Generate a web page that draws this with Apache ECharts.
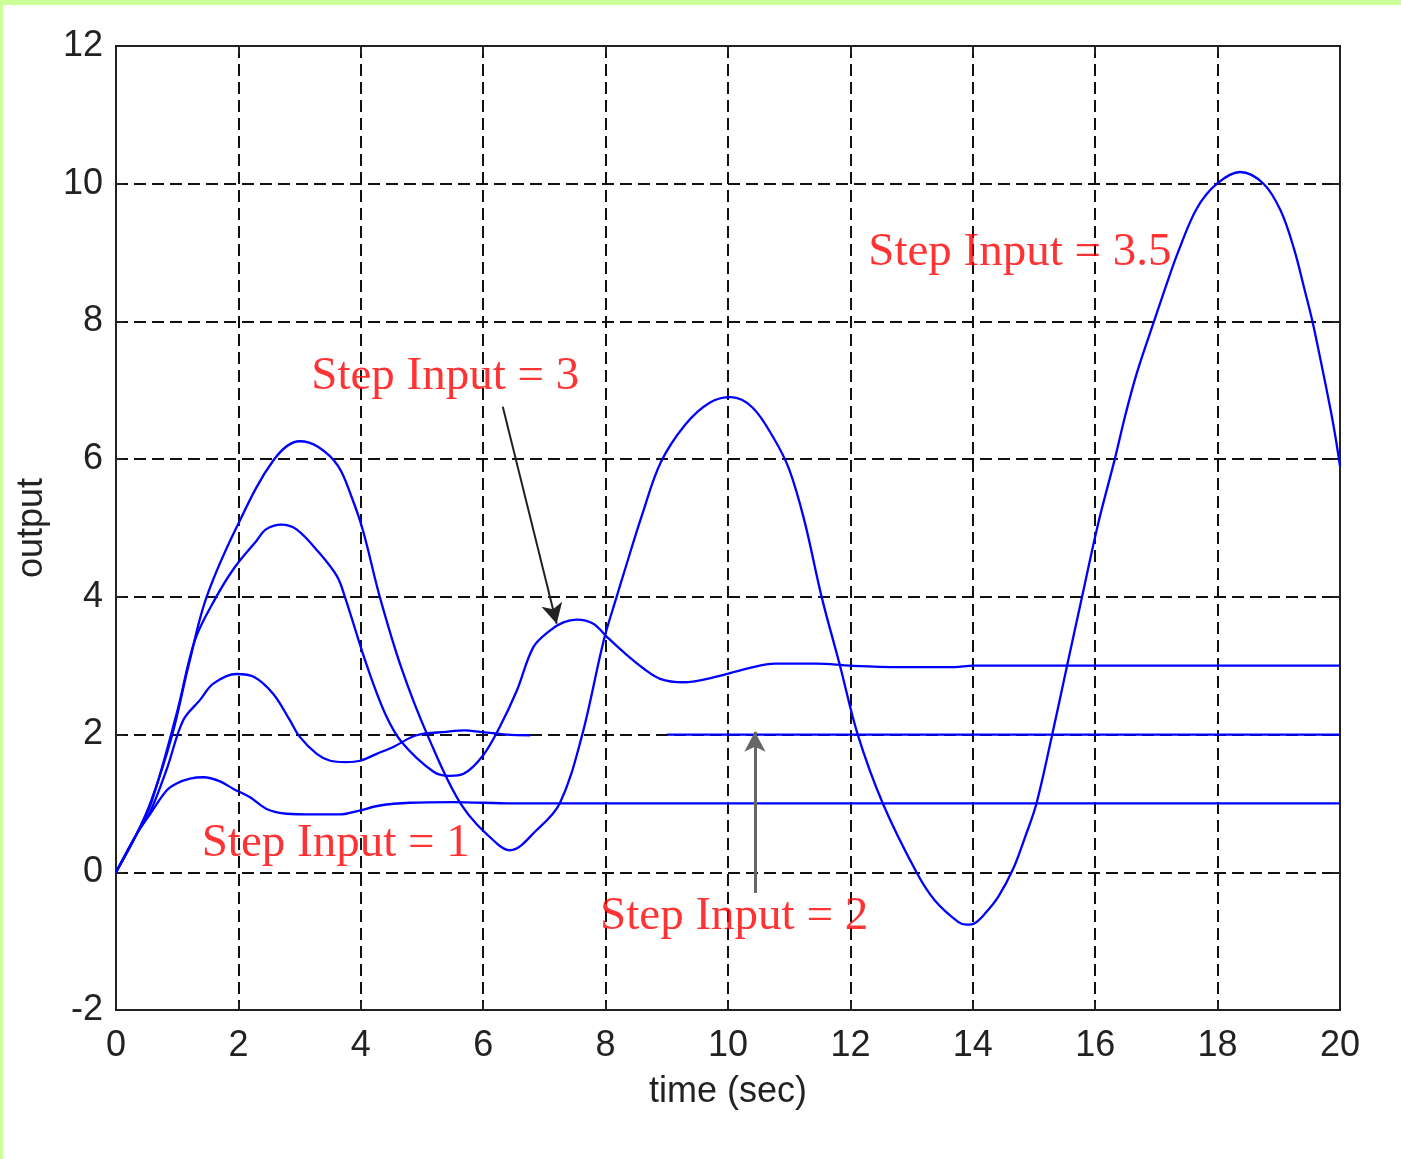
<!DOCTYPE html>
<html lang="en">
<head>
    <meta charset="utf-8">
    <title>step response</title>
    <script src="https://cdn.jsdelivr.net/npm/echarts@6/dist/echarts.min.js"></script>
    <style>
        body { margin: 0; background: #fff; }
        #container { position: absolute; left: 0; top: 0; width: 1401px; height: 1159px; }
        .edge { position: absolute; background: #ccff99; z-index: 5; }
    </style>
</head>
<body>
<div id="container"></div>
<div class="edge" style="left:0;top:0;width:1401px;height:5px;"></div>
<div class="edge" style="left:0;top:0;width:3px;height:1159px;"></div>
<script>
    // step input = 1
    var t1 = [0, 0.34, 0.56, 0.83, 0.99, 1.21, 1.43, 1.7, 1.92, 2.19, 2.46, 2.79, 3.2, 3.66, 3.99, 4.31, 4.8, 5.5, 6.5, 20];
    var y1 = [0, 0.56, 0.85, 1.19, 1.29, 1.36, 1.38, 1.32, 1.21, 1.09, 0.92, 0.85, 0.84, 0.84, 0.9, 0.97, 1.01, 1.02, 1.0, 1.0];
    // step input = 2 (the curve has a gap in the original between ~6.8 s and 9 s)
    var t2 = [0, 0.34, 0.56, 0.83, 1.1, 1.37, 1.59, 1.97, 2.25, 2.57, 2.84, 3.0, 3.28, 3.5, 3.75, 3.99, 4.26, 4.53, 4.91, 5.4, 5.7, 5.95, 6.38, 6.77, 7.5, 9.0, 20];
    var y2 = [0, 0.56, 0.88, 1.5, 2.21, 2.5, 2.74, 2.88, 2.84, 2.59, 2.21, 1.97, 1.72, 1.62, 1.6, 1.62, 1.72, 1.82, 1.99, 2.04, 2.06, 2.04, 2.0, 1.99, null, 2.0, 2.0];
    // step input = 3
    var t3 = [0, 0.34, 0.58, 0.99, 1.29, 1.62, 1.94, 2.3, 2.45, 2.7, 2.95, 3.31, 3.61, 3.74, 4.1, 4.4, 4.67, 5.19, 5.45, 5.68, 6.0, 6.27, 6.55, 6.82, 7.09, 7.31, 7.53, 7.8, 8.02, 8.29, 8.62, 8.89, 9.27, 9.81, 10.36, 10.77, 11.45, 12.0, 12.8, 13.7, 14.0, 20];
    var y3 = [0, 0.56, 1.02, 2.3, 3.37, 3.97, 4.43, 4.82, 4.98, 5.05, 4.98, 4.65, 4.3, 4.0, 3.0, 2.3, 1.89, 1.46, 1.4, 1.43, 1.7, 2.11, 2.64, 3.27, 3.51, 3.63, 3.67, 3.61, 3.42, 3.2, 2.96, 2.81, 2.76, 2.84, 2.97, 3.03, 3.03, 3.0, 2.98, 2.98, 3.0, 3.0];
    // step input = 3.5
    var t35 = [0, 0.34, 0.58, 0.91, 1.18, 1.47, 1.97, 2.57, 3.0, 3.3, 3.63, 3.85, 4.04, 4.31, 4.67, 5.1, 5.65, 6.22, 6.44, 6.87, 7.25, 7.61, 7.97, 8.18, 8.3, 8.6, 8.9, 9.3, 9.7, 10.05, 10.4, 10.75, 11.0, 11.25, 11.53, 11.83, 12.12, 12.53, 13.08, 13.38, 13.76, 13.9, 14.03, 14.2, 14.42, 14.66, 14.85, 15.04, 15.29, 15.54, 15.78, 16.05, 16.32, 16.49, 16.68, 16.98, 17.17, 17.36, 17.66, 17.99, 18.37, 18.75, 19.03, 19.25, 19.41, 19.55, 19.68, 19.85, 19.93, 20];
    var y35 = [0, 0.56, 1.05, 1.97, 2.98, 3.97, 5.01, 5.98, 6.26, 6.18, 5.9, 5.45, 4.95, 4.0, 2.95, 1.97, 0.97, 0.42, 0.32, 0.61, 1.0, 1.97, 3.37, 4.0, 4.35, 5.2, 5.95, 6.5, 6.82, 6.9, 6.75, 6.3, 5.85, 5.1, 4.0, 3.0, 2.0, 1.0, 0.0, -0.41, -0.72, -0.76, -0.74, -0.6, -0.35, 0.05, 0.5, 1.0, 1.97, 3.0, 3.98, 5.07, 6.0, 6.63, 7.25, 8.05, 8.55, 9.02, 9.64, 10.0, 10.17, 10.0, 9.61, 9.05, 8.5, 8.0, 7.45, 6.7, 6.3, 5.9];

    // annotations
    var noteText = ['Step Input = 3.5', 'Step Input = 3', 'Step Input = 1', 'Step Input = 2'];
    var noteT = [14.77, 5.38, 3.59, 10.1];
    var noteY = [9.0, 7.2, 0.41, -0.64];
    // arrows: [from t, from y, to t, to y]
    var arrow3 = [6.32, 6.76, 7.2, 3.61];
    var arrow2 = [10.44, -0.3, 10.44, 2.04];

    var xTicks = [0, 20, 2];
    var yTicks = [-2, 12, 2];

    function pairs(ts, ys) {
        var out = [];
        for (var i = 0; i < ts.length; i++) {
            out.push([ts[i], ys[i]]);
        }
        return out;
    }

    var dom = document.getElementById("container");
    var myChart = echarts.init(dom);

    var axisFont = {fontFamily: 'Liberation Sans', fontSize: 36, color: '#222'};
    var gridDash = {show: true, lineStyle: {color: '#111', width: 2, type: [12, 6]}};
    var blueLine = {color: '#0000ff', width: 2.3};
    var frame = {show: true, onZero: false, lineStyle: {color: '#222', width: 2}};
    var inTick = {show: true, inside: true, length: 8, lineStyle: {color: '#222', width: 2}};

    function curve(name, data) {
        return {
            name: name, type: 'line', data: data, showSymbol: false, symbol: 'none',
            smooth: 0.35, connectNulls: false, lineStyle: blueLine, itemStyle: {color: '#0000ff'},
            z: 3
        };
    }

    var notes = [];
    for (var i = 0; i < noteText.length; i++) {
        notes.push({value: [noteT[i], noteY[i]], name: noteText[i]});
    }

    var option = {
        backgroundColor: '#fff',
        animation: false,
        grid: {left: 116, right: 61, top: 46, bottom: 149, show: true, borderColor: '#222', borderWidth: 2},
        xAxis: [{
            type: 'value', min: xTicks[0], max: xTicks[1], interval: xTicks[2],
            axisLine: frame, axisTick: inTick,
            axisLabel: Object.assign({margin: 18}, axisFont),
            splitLine: gridDash,
            name: 'time (sec)', nameLocation: 'middle', nameGap: 64,
            nameTextStyle: axisFont
        }, {
            type: 'value', min: xTicks[0], max: xTicks[1], interval: xTicks[2], position: 'top',
            axisLine: frame, axisTick: inTick,
            axisLabel: {show: false}, splitLine: {show: false}
        }],
        yAxis: [{
            type: 'value', min: yTicks[0], max: yTicks[1], interval: yTicks[2],
            axisLine: frame, axisTick: inTick,
            axisLabel: Object.assign({margin: 13}, axisFont),
            splitLine: gridDash,
            name: 'output', nameLocation: 'middle', nameGap: 66, nameRotate: 90,
            nameTextStyle: axisFont
        }, {
            type: 'value', min: yTicks[0], max: yTicks[1], interval: yTicks[2], position: 'right',
            axisLine: frame, axisTick: inTick,
            axisLabel: {show: false}, splitLine: {show: false}
        }],
        series: [
            curve('Step Input = 1', pairs(t1, y1)),
            curve('Step Input = 2', pairs(t2, y2)),
            curve('Step Input = 3', pairs(t3, y3)),
            (function () {
                var s = curve('Step Input = 3.5', pairs(t35, y35));
                s.markLine = {
                    silent: true, animation: false,
                    symbol: ['none', 'arrow'], symbolSize: [16, 20],
                    label: {show: false},
                    data: [
                        [{coord: [arrow3[0], arrow3[1]], lineStyle: {color: '#222', width: 2, type: 'solid'}},
                         {coord: [arrow3[2], arrow3[3]]}],
                        [{coord: [arrow2[0], arrow2[1]], lineStyle: {color: '#666', width: 3, type: 'solid'}},
                         {coord: [arrow2[2], arrow2[3]]}]
                    ]
                };
                return s;
            })(),
            {
                name: 'notes', type: 'scatter', data: notes, symbolSize: 1,
                itemStyle: {color: 'rgba(0,0,0,0)'}, silent: true, z: 10,
                label: {
                    show: true, position: 'inside', formatter: function (p) { return p.name; },
                    fontFamily: 'Liberation Serif', fontSize: 47, color: '#ff0000'
                }
            }
        ]
    };

    myChart.setOption(option, true);
</script>
</body>
</html>
